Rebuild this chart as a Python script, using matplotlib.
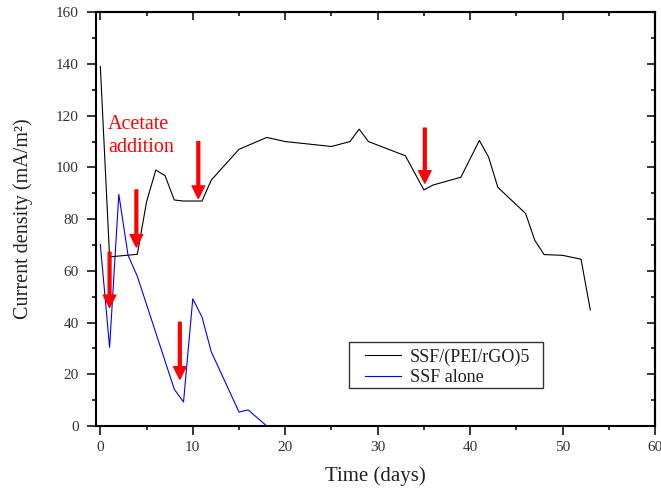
"""
Current density vs time for SSF/(PEI/rGO)5 and bare SSF anodes
"""

import matplotlib
matplotlib.use('Agg')
import matplotlib.pyplot as plt
from matplotlib.patches import Rectangle
from matplotlib.ticker import MultipleLocator

plt.rcParams['font.family'] = ['Liberation Serif', 'DejaVu Serif']

# Data
days_rgo = [0, 1, 4, 5, 6, 7, 8, 9, 11, 12, 15, 18, 20, 25, 27, 28, 29,
            33, 35, 36, 39, 41, 42, 43, 46, 47, 48, 50, 52, 53]
current_rgo = [139, 65.4, 66.4, 86.7, 99, 96.8, 87.4, 87, 87, 95.1, 107, 111.6,
               110, 108.1, 110, 114.8, 110, 104.5, 91.3, 93.2, 96.2, 110.4,
               104, 92.3, 82.2, 71.8, 66.3, 66, 64.5, 44.9]

days_ssf = [0, 1, 2, 3, 4, 8, 9, 10, 11, 12, 15, 16, 18]
current_ssf = [70.2, 30.4, 89.6, 66, 57.9, 14.2, 9.3, 49.2, 42.1, 28.7, 5.4, 6.2, 0]

series_labels = ['SSF/(PEI/rGO)5', 'SSF alone']

# Acetate addition arrows: day, arrow start, arrow tip (current density)
arrow_days = [1.0, 3.9, 10.6, 8.6, 35.1]
arrow_start = [67.2, 91.3, 110, 40.1, 115.2]
arrow_tip = [45.8, 69.2, 88, 18.1, 93.9]

fig = plt.figure(figsize=(6.61, 4.91), dpi=100)
ax = fig.add_axes([0.1448, 0.1324, 0.8461, 0.8426])

ax.plot(days_rgo, current_rgo, color='black', linewidth=0.8, label=series_labels[0])
ax.plot(days_ssf, current_ssf, color='#0000ff', linewidth=0.8, label=series_labels[1])

for x, y0, y1 in zip(arrow_days, arrow_start, arrow_tip):
    ax.annotate('', xy=(x, y1), xytext=(x, y0),
                arrowprops=dict(facecolor='red', edgecolor='red', width=2,
                                headwidth=9, headlength=9, shrink=0))

ax.text(0.83, 120.2, 'Acetate\naddition', color='red', fontsize=14.5,
        ha='left', va='top', linespacing=1.28)

ax.set_xlim(-0.5, 60)
ax.set_ylim(0, 160)
ax.xaxis.set_major_locator(MultipleLocator(10))
ax.xaxis.set_minor_locator(MultipleLocator(5))
ax.yaxis.set_major_locator(MultipleLocator(20))
ax.yaxis.set_minor_locator(MultipleLocator(10))

for side in ax.spines.values():
    side.set_linewidth(1.5)

ax.tick_params(which='major', direction='out', length=6.5, width=1.1,
               labelsize=11, labelcolor='#333333')
ax.tick_params(which='minor', direction='out', length=3, width=1.1)
ax.tick_params(axis='x', pad=4)
ax.tick_params(axis='y', pad=5.5)

# mirrored ticks pointing inward on top and right
top = ax.secondary_xaxis('top')
top.xaxis.set_major_locator(MultipleLocator(10))
top.xaxis.set_minor_locator(MultipleLocator(5))
top.tick_params(which='both', direction='in', labeltop=False, width=1.1)
top.tick_params(which='major', length=6)
top.tick_params(which='minor', length=3)
top.spines['top'].set_linewidth(1.5)

right = ax.secondary_yaxis('right')
right.yaxis.set_major_locator(MultipleLocator(20))
right.yaxis.set_minor_locator(MultipleLocator(10))
right.tick_params(which='both', direction='in', labelright=False, width=1.1)
right.tick_params(which='major', length=6)
right.tick_params(which='minor', length=3)
right.spines['right'].set_linewidth(1.5)

ax.set_xlabel('Time (days)', fontsize=15, color='#222222')
ax.set_ylabel('Current density (mA/m²)', fontsize=14.5, color='#222222')
ax.xaxis.set_label_coords(0.5, -0.097)
ax.yaxis.set_label_coords(-0.112, 0.5)

# legend without its own frame, box drawn separately
leg = ax.legend(loc='center left', bbox_to_anchor=(0.4815, 0.1419), fontsize=13,
                frameon=False, borderaxespad=0, borderpad=0, handlelength=2,
                handletextpad=0.5, labelspacing=0.2)
for t in leg.get_texts():
    t.set_color('#222222')
ax.add_patch(Rectangle((0.4527, 0.0911), 0.3463, 0.1126, transform=ax.transAxes,
                       fill=False, edgecolor='#333333', linewidth=1.0, zorder=5))

plt.savefig('out.png', dpi=100)
